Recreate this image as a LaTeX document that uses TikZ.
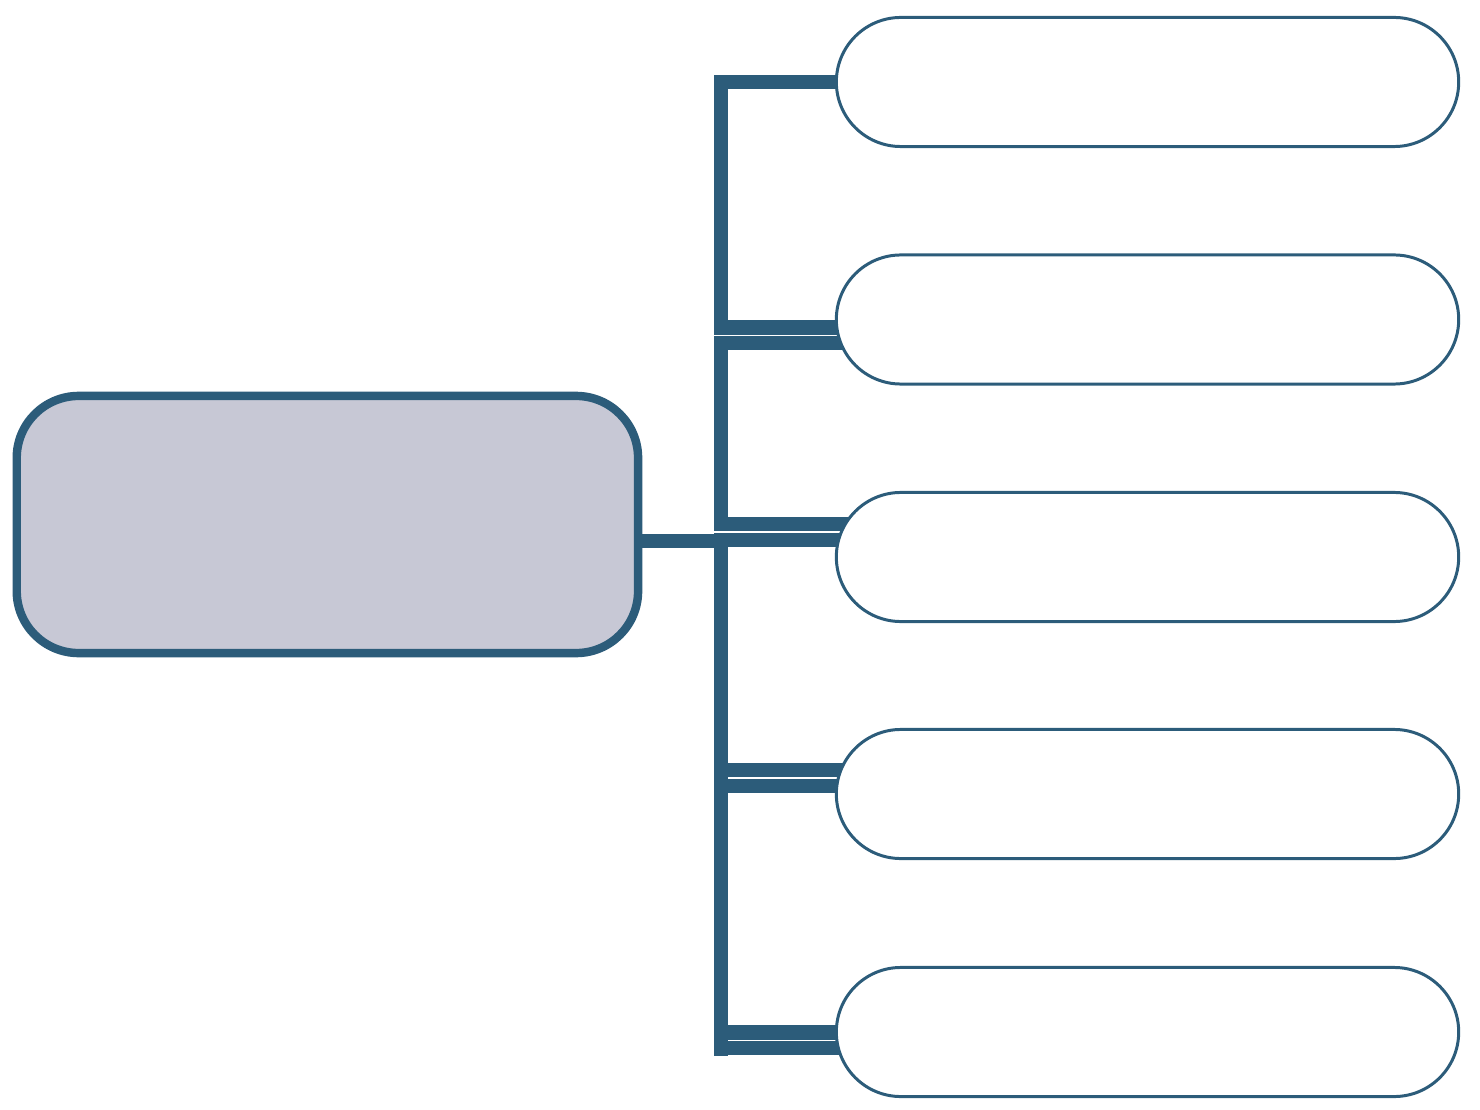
\documentclass[tikz,border=0pt]{standalone}
\usetikzlibrary{backgrounds}
\definecolor{linkblue}{RGB}{44,92,122}
\definecolor{hubgray}{RGB}{199,200,213}

\begin{document}
\begin{tikzpicture}[x=0.01cm,y=-0.01cm,
  hubbox/.style={draw=linkblue,fill=hubgray,line width=2.4pt,rounded corners=0.62cm,
    minimum width=6.21cm,minimum height=2.57cm,inner sep=0pt},
  leaf/.style={draw=linkblue,fill=white,line width=0.85pt,rounded corners=0.645cm,
    minimum width=6.22cm,minimum height=1.29cm,inner sep=0pt},
  link/.style={draw=linkblue,line width=4.05pt},
  bar/.style={draw=linkblue,line width=4.05pt,double=white,double distance=0.42pt,
    shorten >=-0.16cm}]
\useasboundingbox (0,0) rectangle (1480,1110);

\node[hubbox] (hub) at (327.4,524.5) {};
\foreach \i/\y in {1/82,2/319.5,3/557,4/794,5/1032}
  \node[leaf] (leaf\i) at (1147.5,\y) {};

\coordinate (hj) at (721,541);
\coordinate (foot) at (721,1055.5);
\coordinate (b2) at (714,335.3);
\coordinate (b3) at (714,532.2);
\coordinate (b4) at (728,778);
\coordinate (b5) at (728,1040.4);

\begin{pgfonlayer}{background}
\draw[link] (hub.east |- hj) -- (hj);
\draw[link] (leaf1.west) -| (foot);
\foreach \i in {2,...,5}
  \draw[bar] (b\i) -- (leaf\i.west |- b\i);
\end{pgfonlayer}
\end{tikzpicture}
\end{document}
